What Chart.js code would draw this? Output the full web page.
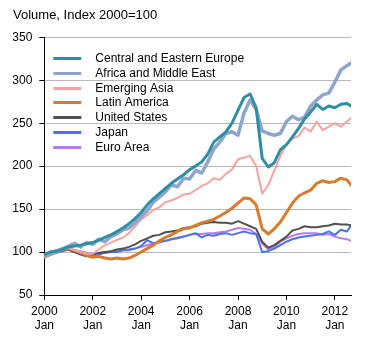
<!DOCTYPE html>
<html>
<head>
<meta charset="utf-8">
<script src="https://cdn.jsdelivr.net/npm/chart.js@4/dist/chart.umd.min.js"></script>
<style>
  html, body { margin: 0; padding: 0; background: #fff; }
  #chart { display: block; }
</style>
</head>
<body>
<canvas id="chart" width="387" height="337"></canvas>
<script>
// quarterly months since 2000 Jan, last point 2012 Sep
const months = [
  0, 3, 6, 9, 12, 15, 18, 21, 24, 27, 30, 33, 36, 39, 42, 45, 48, 51, 54, 57,
  60, 63, 66, 69, 72, 75, 78, 81, 84, 87, 90, 93, 96, 99, 102, 105, 108, 111,
  114, 117, 120, 123, 126, 129, 132, 135, 138, 141, 144, 147, 150, 152,
];
const tickMonths = [0, 24, 48, 72, 96, 120, 144];

const seriesNames = [
  "Central and Eastern Europe",
  "Africa and Middle East",
  "Emerging Asia",
  "Latin America",
  "United States",
  "Japan",
  "Euro Area",
];

const centralEastEurope = [
  97, 100, 101, 103, 106, 107, 108, 110, 111, 114, 117, 120, 124, 128, 133, 139,
  146, 155, 162, 168, 174, 180, 185, 190, 196, 200, 205, 214, 228, 234, 240, 250,
  265, 280, 284, 268, 209, 199, 204, 219, 225, 234, 244, 255, 263, 272, 266, 270,
  268, 272, 273, 270,
];
const africaMiddleEast = [
  95, 98, 100, 104, 107, 110, 106, 111, 109, 115, 112, 118, 121, 126, 128, 134,
  141, 148, 158, 164, 170, 178, 176, 186, 185, 195, 192, 205, 220, 228, 238, 240,
  236, 262, 277, 266, 241, 238, 236, 238, 252, 258, 254, 257, 270, 277, 283, 285,
  298, 312, 317, 320,
];
const emergingAsia = [
  97, 100, 102, 103, 105, 102, 100, 98, 98, 103, 108, 111, 114, 117, 122, 130,
  138, 143, 149, 152, 158, 160, 163, 167, 168, 172, 177, 180, 186, 184, 191, 196,
  208, 210, 212, 200, 168, 178, 195, 212, 225, 232, 235, 245, 240, 252, 242, 246,
  250, 246, 252, 256,
];
const latinAmerica = [
  94, 97, 100, 103, 104, 102, 99, 96, 94, 95, 93, 92, 93, 92, 93, 96,
  100, 104, 108, 113, 117, 120, 124, 127, 128, 131, 134, 136, 138, 142, 146, 151,
  157, 163, 162, 155, 127, 121, 127, 135, 146, 157, 165, 169, 172, 180, 183, 181,
  182, 186, 184, 178,
];
const unitedStates = [
  97, 100, 102, 104, 103, 100, 97, 95, 97, 99, 100, 101, 103, 104, 106, 109,
  113, 116, 119, 120, 123, 124, 125, 128, 129, 130, 133, 134, 135, 134, 134, 133,
  136, 133, 130, 127, 112, 105, 108, 113, 118, 125, 127, 130, 129, 129, 130, 131,
  133, 132, 132, 131,
];
const japan = [
  94, 97, 99, 101, 103, 100, 98, 96, 95, 97, 99, 100, 100, 102, 103, 104,
  107, 114, 110, 112, 113, 115, 116, 118, 120, 122, 117, 120, 119, 121, 122, 120,
  122, 124, 122, 121, 100, 101, 104, 108, 112, 115, 117, 118, 119, 120, 121, 124,
  120, 126, 124, 131,
];
const euroArea = [
  96, 99, 101, 102, 104, 102, 101, 99, 98, 99, 100, 100, 101, 102, 102, 104,
  106, 108, 110, 111, 113, 115, 117, 118, 120, 121, 121, 122, 122, 123, 124, 126,
  128, 127, 126, 121, 110, 103, 106, 112, 116, 119, 121, 122, 122, 122, 120, 121,
  118, 116, 115, 113,
];

const seriesValues = [
  centralEastEurope,
  africaMiddleEast,
  emergingAsia,
  latinAmerica,
  unitedStates,
  japan,
  euroArea,
];
const seriesColors = ["#2f8ea3", "#8ea5cf", "#f4a3a3", "#d97b2f", "#505050", "#4b73e8", "#b77cf1"];
const seriesWidths = [3, 3.5, 2, 3, 2, 2, 2];

const FONT = '"Liberation Sans", Arial, sans-serif';
Chart.defaults.font.family = FONT;
Chart.defaults.font.size = 12;
Chart.defaults.color = "#000";

// legend drawn inside the plot, top left
const insideLegend = {
  id: "insideLegend",
  afterDraw(chart) {
    const { ctx, chartArea } = chart;
    ctx.save();
    ctx.font = "12px " + FONT;
    ctx.textBaseline = "middle";
    ctx.lineCap = "butt";
    chart.data.datasets.forEach((ds, i) => {
      const x = chartArea.left + 9;
      const y = Math.round(chartArea.top + 21 + i * 14.7) + 0.5;
      ctx.strokeStyle = ds.borderColor;
      ctx.lineWidth = 3;
      ctx.beginPath();
      ctx.moveTo(x, y);
      ctx.lineTo(x + 28, y);
      ctx.stroke();
      ctx.fillStyle = "#000";
      ctx.fillText(ds.label, x + 42, y);
    });
    ctx.restore();
  },
};

new Chart(document.getElementById("chart"), {
  type: "line",
  data: {
    datasets: seriesNames.map((name, i) => ({
      label: name,
      data: months.map((m, j) => ({ x: m, y: seriesValues[i][j] })),
      borderColor: seriesColors[i],
      backgroundColor: seriesColors[i],
      borderWidth: seriesWidths[i],
      borderJoinStyle: "round",
      borderCapStyle: "round",
      pointRadius: 0,
      tension: 0,
      fill: false,
    })),
  },
  options: {
    responsive: false,
    animation: false,
    layout: { padding: { left: 13, right: 36, top: 0, bottom: 0 } },
    plugins: {
      legend: { display: false },
      tooltip: { enabled: false },
      title: {
        display: true,
        text: "Volume, Index 2000=100",
        align: "start",
        color: "#000",
        font: { size: 13, weight: "normal" },
        padding: { top: 8, bottom: 13.7 },
      },
    },
    scales: {
      x: {
        type: "linear",
        min: 0,
        max: 152,
        afterBuildTicks: (s) => {
          s.ticks = tickMonths.map((v) => ({ value: v }));
        },
        afterFit: (s) => {
          s.height = 42;
        },
        ticks: {
          padding: 5,
          maxRotation: 0,
          autoSkip: false,
          font: { size: 12, lineHeight: 1.17 },
          callback: (v) => [String(2000 + v / 12), "Jan"],
        },
        grid: { drawOnChartArea: false, tickColor: "#000", tickLength: 5 },
        border: { color: "#000", width: 1 },
      },
      y: {
        min: 50,
        max: 350,
        afterFit: (s) => {
          s.width = 31.3;
        },
        ticks: { stepSize: 50, padding: 7, font: { size: 12 } },
        grid: { color: "#b8b8b8", tickColor: "#000", tickLength: 5 },
        border: { color: "#000", width: 1 },
      },
    },
  },
  plugins: [insideLegend],
});
</script>
</body>
</html>
